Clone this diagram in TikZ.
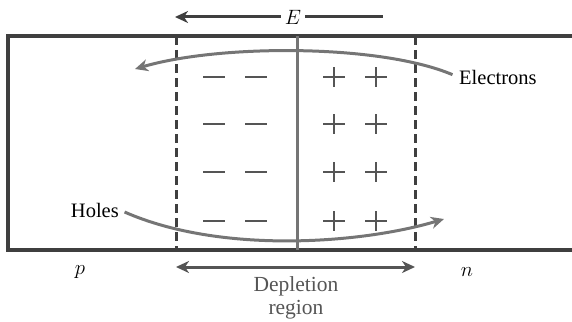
\documentclass[tikz,border=0pt]{standalone}
\usepackage{fontspec}
\setmainfont{Liberation Serif}
\usetikzlibrary{arrows.meta}
\definecolor{edge}{HTML}{3F3F3F}
\definecolor{flowgray}{HTML}{757575}
\definecolor{signgray}{HTML}{555555}
\begin{document}
\begin{tikzpicture}[x=1pt, y=-1pt, >={Stealth[length=13pt, width=12pt, inset=4pt]},
    box/.style={line width=3.2pt, draw=edge},
    dashline/.style={line width=3pt, draw=edge, dash pattern=on 9pt off 5pt},
    flow/.style={line width=3pt, draw=flowgray},
    sign/.style={line width=2.8pt, draw=signgray},
    lbl/.style={font=\fontsize{20.5}{24}\selectfont, inner sep=1pt}]
  \useasboundingbox (0,0) rectangle (572,321);

  % the junction
  \draw[box] (572,36) -- (8,36) -- (8,250) -- (572,250);
  \draw[dashline] (176,36) -- (176,250);
  \draw[dashline] (415,36) -- (415,250);
  \draw[flow] (297,36) -- (297,250);

  % fixed charges
  \foreach \y in {77,124,172,221} {
    \foreach \x in {214,256}
      \draw[sign] (\x-11,\y) -- (\x+11,\y);
    \foreach \x in {334,376} {
      \draw[sign] (\x-11,\y) -- (\x+11,\y);
      \draw[sign] (\x,\y-10) -- (\x,\y+10);
    }
  }

  % field
  \coordinate (Eleft) at (175,17);
  \coordinate (Eright) at (383,17);
  \node[lbl, inner sep=4pt] (E) at (293,17) {$E$};
  \draw[line width=3pt, draw=edge, ->] (E) -- (Eleft);
  \draw[line width=3pt, draw=edge] (E) -- (Eright);

  % carriers
  \node[lbl, anchor=west] (elec) at (458,77) {Electrons};
  \node[lbl, anchor=east] (holes) at (120,210) {Holes};
  \coordinate (etip) at (135,69);
  \coordinate (htip) at (444,219);
  \draw[flow, ->, shorten <=6pt] (elec.west) .. controls (380,44) and (220,44) .. (etip);
  \draw[flow, ->, shorten <=5pt] (holes.east) .. controls (220,254) and (360,244) .. (htip);

  % regions
  \coordinate (dleft) at (176,267);
  \coordinate (dright) at (415,267);
  \draw[flow, draw=signgray, <->] (dleft) -- (dright);
  \node[lbl, align=center, text=signgray, font=\fontsize{21.5}{23}\selectfont] (depl) at (296,298) {Depletion\\region};
  \node[lbl] (p) at (80,272) {$p$};
  \node[lbl] (n) at (467,272) {$n$};
\end{tikzpicture}
\end{document}
